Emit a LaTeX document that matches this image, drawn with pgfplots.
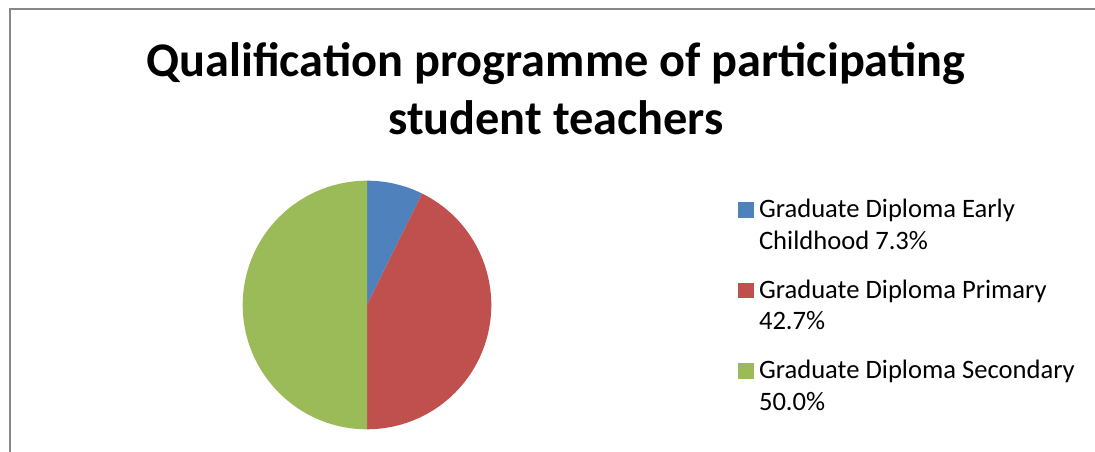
\documentclass[border=0pt]{standalone}
\usepackage{pgfplots}
\pgfplotsset{compat=1.18}
\usepackage{pgfplotstable}
\usepackage{fontspec}
\setmainfont{Carlito}
\definecolor{pieblue}{HTML}{4F81BD}
\definecolor{piered}{HTML}{C0504D}
\definecolor{piegreen}{HTML}{9BBB59}
\definecolor{framegray}{HTML}{878787}

\pgfplotstableread{
share
7.3
42.7
50.0
}\piedata

\begin{document}
\begin{tikzpicture}[x=1bp,y=1bp]
\useasboundingbox (0,0) rectangle (1095,452);
\draw[framegray, line width=2bp] (9.5,0) -- (9.5,442.5) -- (1095,442.5);
\node[font=\fontsize{48.5}{58}\selectfont\bfseries, anchor=base, inner sep=0] at (556,375) {Qualification programme of participating};
\node[font=\fontsize{48.5}{58}\selectfont\bfseries, anchor=base, inner sep=0] at (556,317) {student teachers};
\coordinate (piecenter) at (367,147);

\pgfplotstablegetelem{0}{share}\of\piedata\let\sA\pgfplotsretval
\pgfplotstablegetelem{1}{share}\of\piedata\let\sB\pgfplotsretval
\pgfplotstablegetelem{2}{share}\of\piedata\let\sC\pgfplotsretval
\pgfmathsetmacro\aA{90}
\pgfmathsetmacro\aB{\aA-3.6*\sA}
\pgfmathsetmacro\aC{\aB-3.6*\sB}
\pgfmathsetmacro\aD{\aC-3.6*\sC}

\begin{axis}[
  at={(piecenter)}, anchor=origin,
  width=248.6bp, height=248.6bp, scale only axis,
  xmin=-1, xmax=1, ymin=-1, ymax=1,
  hide axis, clip=false,
  legend style={
    at={(1.9936,0.9325)}, anchor=north west,
    draw=none, fill=none, inner sep=0pt, outer sep=0pt,
    row sep=20.5bp, column sep=5.8bp,
    font=\fontsize{26.7}{32}\selectfont,
    nodes={inner sep=0pt, align=left, text height=52bp, text depth=8bp, anchor=base west},
  },
  legend cell align=left,
]
\addlegendimage{legend image code/.code={\fill[pieblue] (0bp,32.3bp) rectangle (14.5bp,46.8bp);}}
\addlegendentry{Graduate Diploma Early\\Childhood 7.3\%}
\addlegendimage{legend image code/.code={\fill[piered] (0bp,32.3bp) rectangle (14.5bp,46.8bp);}}
\addlegendentry{Graduate Diploma Primary\\42.7\%}
\addlegendimage{legend image code/.code={\fill[piegreen] (0bp,32.3bp) rectangle (14.5bp,46.8bp);}}
\addlegendentry{Graduate Diploma Secondary\\50.0\%}

\fill[pieblue] (axis cs:0,0) -- (axis cs:{cos(\aA)},{sin(\aA)}) arc[start angle=\aA, end angle=\aB, radius=124.3bp] -- cycle;
\fill[piered] (axis cs:0,0) -- (axis cs:{cos(\aB)},{sin(\aB)}) arc[start angle=\aB, end angle=\aC, radius=124.3bp] -- cycle;
\fill[piegreen] (axis cs:0,0) -- (axis cs:{cos(\aC)},{sin(\aC)}) arc[start angle=\aC, end angle=\aD, radius=124.3bp] -- cycle;
\end{axis}
\end{tikzpicture}
\end{document}
